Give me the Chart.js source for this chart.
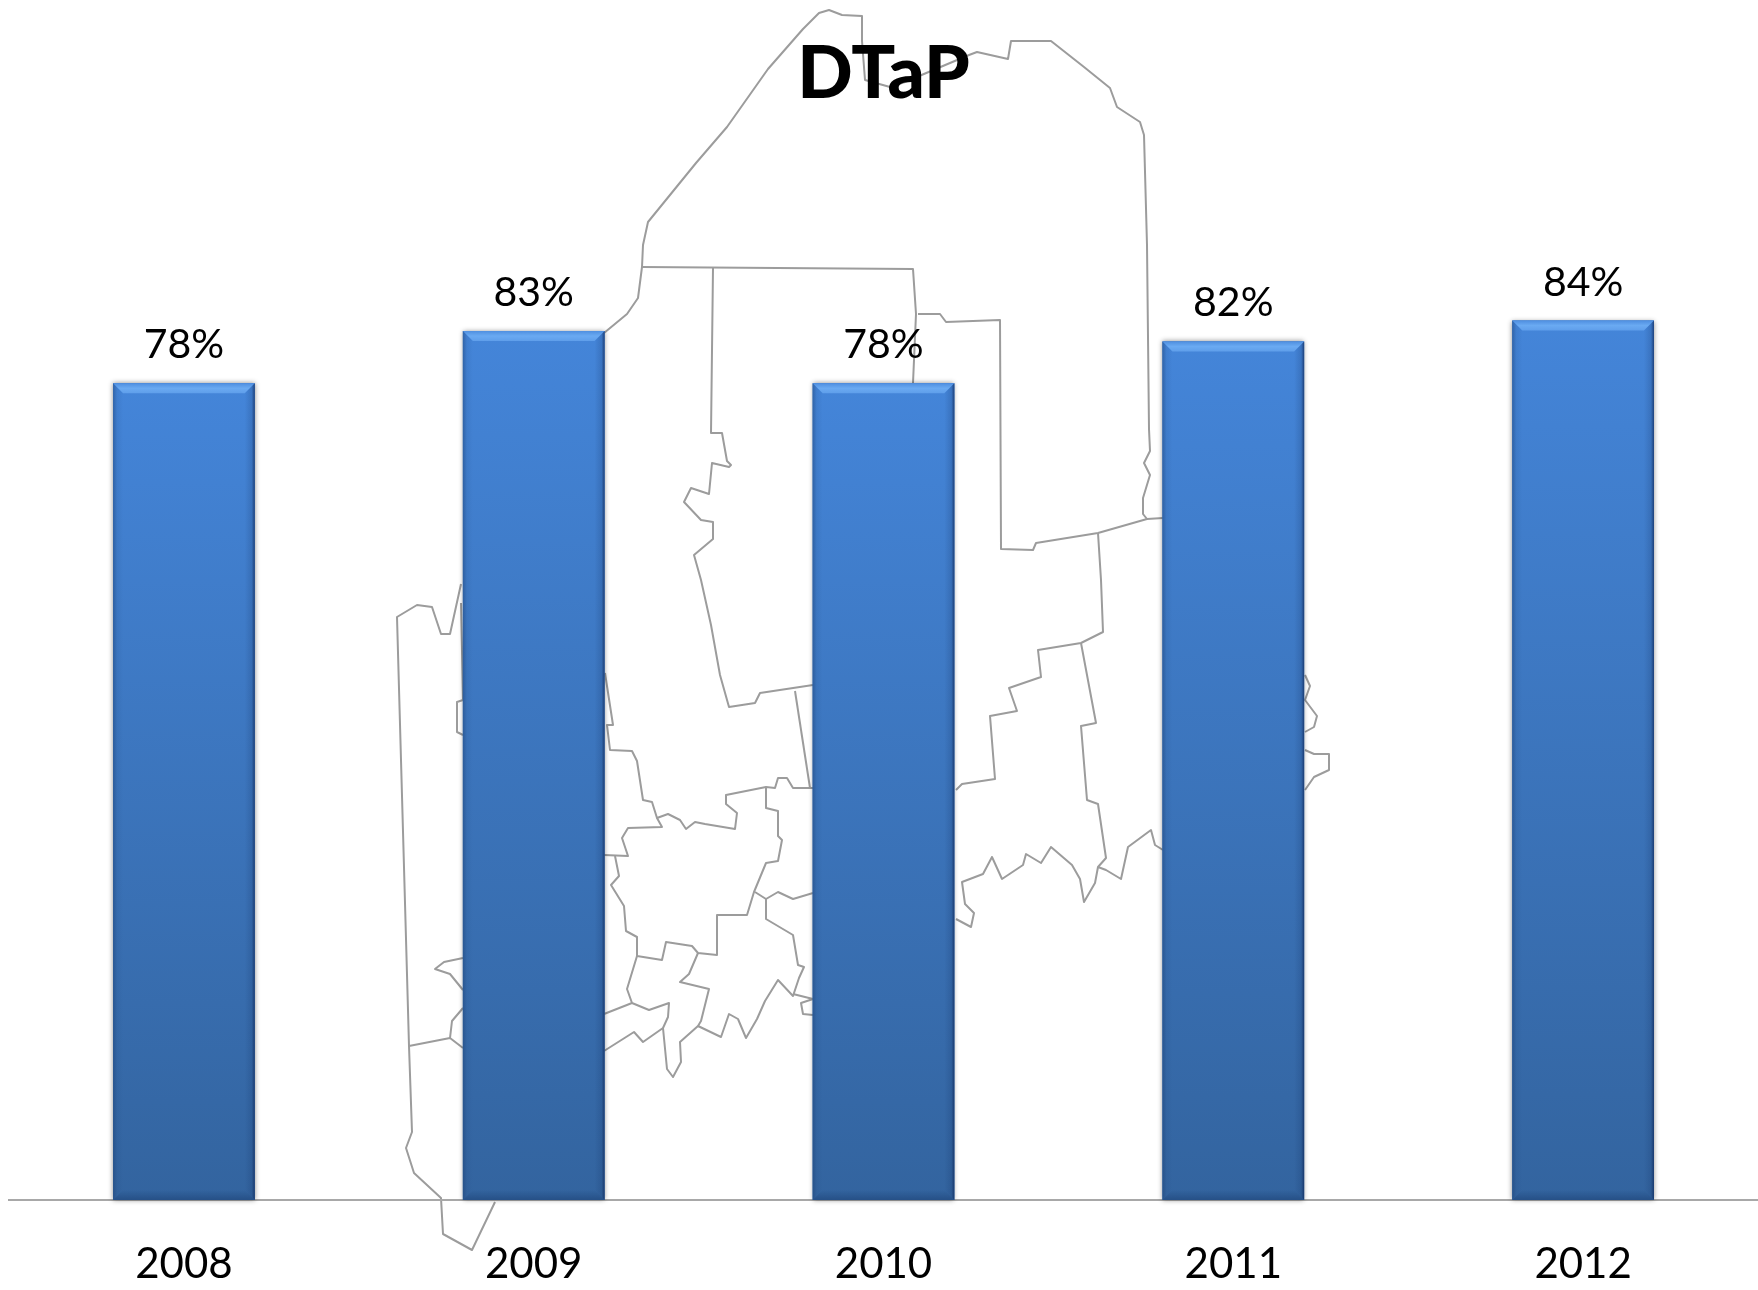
<!DOCTYPE html>
<html>
<head>
<meta charset="utf-8">
<title>DTaP</title>
<script src="https://cdn.jsdelivr.net/npm/chart.js@4/dist/chart.umd.min.js"></script>
<style>
  html, body { margin: 0; padding: 0; background: #fff; }
  #wrap { width: 1758px; height: 1290px; }
</style>
</head>
<body>
<div id="wrap"><canvas id="chartDtap" width="1758" height="1290"></canvas></div>
<script>
const years = ['2008', '2009', '2010', '2011', '2012'];
const dtapValues = [78, 83, 78, 82, 84];
const chartTitle = 'DTaP';

// map drawn behind the bars, page pixels (background picture, not data)
const mapOutlines = [
  [[604,333],[627,314],[638,298],[642,267],[643,245],[648,222],[696,163],[727,127],[768,69],[803,29],[819,13],[829,10],[842,15],[862,16],[862,41],[865,80],[890,87],[905,82],[931,71],[969,55],[977,52],[1008,59],[1011,41],[1051,41],[1084,67],[1110,88],[1117,107],[1140,122],[1144,135],[1147,245],[1149,429],[1150,451],[1144,463],[1150,475],[1143,498],[1143,514],[1147,519],[1163,518]],
  [[1147,519],[1098,533],[1036,543],[1033,550],[1001,549],[1000,320],[946,322],[940,314],[918,314]],
  [[642,267],[913,269],[916,314],[913,383]],
  [[713,268],[711,433],[722,433],[727,461],[731,465],[729,467],[712,463],[709,494],[691,488],[684,502],[701,520],[713,522],[713,539],[694,555],[701,580],[711,625],[720,675],[729,707],[755,703],[760,693],[813,685]],
  [[795,691],[810,788]],
  [[813,788],[793,788],[787,778],[778,778],[775,788],[766,787],[726,795],[726,804],[737,813],[735,829],[705,824],[695,822],[686,829],[680,820],[668,814],[657,818],[652,802],[643,800],[637,761],[632,751],[610,750],[607,725],[613,725],[605,673]],
  [[657,818],[662,827],[628,828],[622,838],[628,856],[604,855]],
  [[615,856],[619,876],[611,885],[624,906],[626,931],[637,937],[637,956],[662,960],[666,942],[692,946],[698,953],[717,955],[717,915],[747,915],[754,892],[766,863],[778,861],[782,840],[778,836],[778,811],[766,808],[766,787]],
  [[755,892],[766,899],[778,892],[793,899],[813,893]],
  [[766,899],[766,919],[793,935],[798,965],[804,967],[799,978],[793,996],[778,980],[765,1001],[757,1019],[746,1038],[738,1019],[729,1014],[721,1037],[698,1026],[680,1042],[681,1062],[673,1077],[667,1069],[663,1028],[643,1042],[634,1032],[604,1051]],
  [[698,953],[689,974],[680,982],[709,989],[701,1021],[698,1026]],
  [[637,956],[627,989],[632,1003],[649,1010],[669,1003],[668,1017],[663,1028]],
  [[632,1003],[604,1014]],
  [[793,994],[813,999],[801,1003],[803,1014],[813,1015]],
  [[461,584],[450,634],[441,634],[432,607],[417,605],[397,617],[409,1046],[412,1132],[406,1148],[414,1173],[441,1198],[443,1234],[472,1250],[495,1202]],
  [[461,603],[463,700],[457,702],[457,732],[463,735]],
  [[409,1046],[450,1038],[463,1048]],
  [[450,1038],[452,1021],[463,1008]],
  [[463,958],[444,962],[435,969],[450,974],[463,990]],
  [[1305,675],[1310,686],[1305,700],[1317,716],[1314,727],[1305,732]],
  [[1305,750],[1314,754],[1329,754],[1329,770],[1314,777],[1305,790]],
  [[956,790],[962,784],[995,779],[990,716],[1017,711],[1009,688],[1041,677],[1038,650],[1081,643],[1103,632],[1101,580],[1098,533]],
  [[1081,643],[1096,723],[1081,726],[1087,800],[1098,804],[1106,858],[1098,867],[1095,883],[1084,902],[1080,879],[1072,865],[1051,847],[1041,863],[1026,854],[1023,865],[1002,879],[992,857],[983,874],[962,882],[965,904],[974,913],[971,927],[956,919]],
  [[1098,867],[1106,870],[1121,879],[1128,847],[1151,830],[1155,845],[1163,850]],
];

const FONT = 'Lato, "Open Sans", sans-serif';

// faint map behind everything
const mapPlugin = {
  id: 'mapBackground',
  beforeDraw(chart) {
    const c = chart.ctx;
    c.save();
    c.strokeStyle = '#9c9c9c';
    c.lineWidth = 2;
    c.lineJoin = 'round';
    mapOutlines.forEach(line => {
      c.beginPath();
      line.forEach(([x, y], i) => (i ? c.lineTo(x, y) : c.moveTo(x, y)));
      c.stroke();
    });
    c.restore();
  },
};

// soft shadow under the bars, bevel on top of them, then the value labels
const bevelPlugin = {
  id: 'barBevel',
  beforeDatasetsDraw(chart) {
    const c = chart.ctx;
    c.save();
    c.shadowColor = 'rgba(0,0,0,0.45)';
    c.shadowBlur = 5;
    c.fillStyle = '#3a70b5';
    chart.getDatasetMeta(0).data.forEach(b => {
      c.fillRect(b.x - b.width / 2, b.y, b.width, b.base - b.y);
    });
    c.restore();
  },
  afterDatasetsDraw(chart) {
    const c = chart.ctx;
    const d = 10;
    chart.getDatasetMeta(0).data.forEach((b, i) => {
      const l = b.x - b.width / 2, r = b.x + b.width / 2, t = b.y, bot = b.base;
      c.save();
      // top strip
      let g = c.createLinearGradient(0, t, 0, t + d);
      g.addColorStop(0, '#4f8fe0');
      g.addColorStop(0.5, '#6aaaf2');
      g.addColorStop(1, '#5f9eea');
      c.fillStyle = g;
      poly(c, [[l, t], [r, t], [r - d, t + d], [l + d, t + d]]);
      // sides
      g = c.createLinearGradient(l, 0, l + d, 0);
      g.addColorStop(0, 'rgba(25,60,110,0.45)');
      g.addColorStop(0.4, 'rgba(25,60,110,0.1)');
      g.addColorStop(1, 'rgba(25,60,110,0)');
      c.fillStyle = g;
      poly(c, [[l, t], [l + d, t + d], [l + d, bot - d], [l, bot]]);
      g = c.createLinearGradient(r, 0, r - d, 0);
      g.addColorStop(0, 'rgba(15,40,90,0.75)');
      g.addColorStop(0.3, 'rgba(20,50,100,0.2)');
      g.addColorStop(1, 'rgba(20,50,100,0)');
      c.fillStyle = g;
      poly(c, [[r, t], [r - d, t + d], [r - d, bot - d], [r, bot]]);
      // bottom strip
      g = c.createLinearGradient(0, bot, 0, bot - d);
      g.addColorStop(0, 'rgba(25,60,110,0.5)');
      g.addColorStop(1, 'rgba(25,60,110,0)');
      c.fillStyle = g;
      poly(c, [[l, bot], [r, bot], [r - d, bot - d], [l + d, bot - d]]);
      // value label
      c.fillStyle = '#000';
      c.font = '41px ' + FONT;
      c.textAlign = 'center';
      c.textBaseline = 'alphabetic';
      c.fillText(dtapValues[i] + '%', b.x, t - 25);
      c.restore();
    });
  },
};

function poly(c, pts) {
  c.beginPath();
  pts.forEach(([x, y], i) => (i ? c.lineTo(x, y) : c.moveTo(x, y)));
  c.closePath();
  c.fill();
}

new Chart(document.getElementById('chartDtap'), {
  type: 'bar',
  data: {
    labels: years,
    datasets: [{
      label: chartTitle,
      data: dtapValues,
      barPercentage: 0.405,
      categoryPercentage: 1,
      backgroundColor(ctx) {
        const y = ctx.chart.scales.y;
        if (!ctx.chart.chartArea || !y) return '#3f7ac6';
        const top = y.getPixelForValue(ctx.raw);
        const bottom = y.getPixelForValue(0);
        if (!isFinite(top) || !isFinite(bottom)) return '#3f7ac6';
        const g = ctx.chart.ctx.createLinearGradient(0, top, 0, bottom);
        g.addColorStop(0, '#4485d9');
        g.addColorStop(1, '#33649f');
        return g;
      },
    }],
  },
  options: {
    responsive: false,
    animation: false,
    layout: { padding: { left: 9, right: 0, top: 0, bottom: 0 } },
    plugins: {
      legend: { display: false },
      tooltip: { enabled: false },
      title: {
        display: true,
        text: chartTitle,
        color: '#000',
        font: { family: FONT, size: 73, weight: '900', lineHeight: 1.2 },
        padding: { top: 31, bottom: 34.4 },
      },
    },
    scales: {
      x: {
        grid: { display: false, drawTicks: false },
        border: { color: '#a8a8a8', width: 2 },
        ticks: { color: '#000', font: { family: FONT, size: 42 }, padding: 39 },
        afterFit(scale) { scale.height = 90; },
      },
      y: { display: false, min: 0, max: 100 },
    },
  },
  plugins: [mapPlugin, bevelPlugin],
});
</script>
</body>
</html>
